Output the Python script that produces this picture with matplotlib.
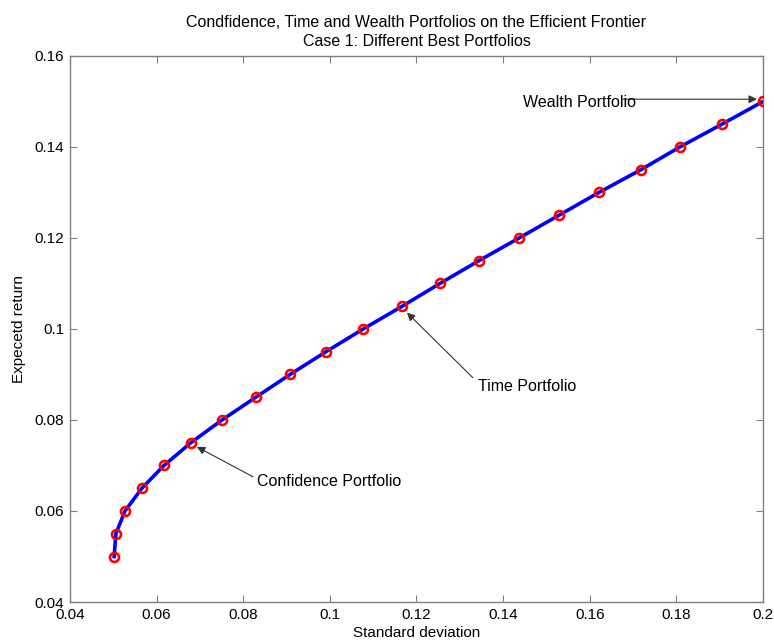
import matplotlib
matplotlib.use("Agg")
import matplotlib.pyplot as plt

plt.rcParams['font.family'] = ['Liberation Sans', 'DejaVu Sans']

# efficient frontier points
expected_return = [0.050, 0.055, 0.060, 0.065, 0.070, 0.075, 0.080, 0.085, 0.090, 0.095,
                   0.100, 0.105, 0.110, 0.115, 0.120, 0.125, 0.130, 0.135, 0.140, 0.145, 0.150]
std_dev = [0.0502, 0.0506, 0.0527, 0.0566, 0.0617, 0.0679, 0.0751, 0.0829, 0.0908, 0.0991,
           0.1077, 0.1167, 0.1254, 0.1344, 0.1437, 0.1529, 0.1621, 0.1718, 0.1808, 0.1905, 0.2000]

x_ticks = [0.04, 0.06, 0.08, 0.1, 0.12, 0.14, 0.16, 0.18, 0.2]
y_ticks = [0.04, 0.06, 0.08, 0.1, 0.12, 0.14, 0.16]

fig = plt.figure(figsize=(7.74, 6.42), dpi=100)
ax = fig.add_axes([0.0904, 0.0623, 0.8954, 0.8505])

ax.plot(std_dev, expected_return, color='#0000ff', lw=2.6, zorder=2)
ax.plot(std_dev, expected_return, 'o', ms=6.5, mfc='none', mec='#ff0000', mew=1.9, zorder=3)

ax.set_xlim(0.04, 0.2)
ax.set_ylim(0.04, 0.16)
ax.set_xticks(x_ticks)
ax.set_yticks(y_ticks)
ax.set_xticklabels(['0.04', '0.06', '0.08', '0.1', '0.12', '0.14', '0.16', '0.18', '0.2'])
ax.set_yticklabels(['0.04', '0.06', '0.08', '0.1', '0.12', '0.14', '0.16'])
ax.tick_params(direction='in', top=True, right=True, length=5, width=0.8,
               color='#808080', labelsize=11, pad=4)
for s in ax.spines.values():
    s.set_color('#808080')
    s.set_linewidth(1.0)

arrow = dict(arrowstyle='-|>', color='#333333', lw=0.8, mutation_scale=12,
             shrinkA=0, shrinkB=0)

# Wealth portfolio (top of the frontier)
ax.annotate('', xy=(0.1986, 0.1505), xytext=(0.1677, 0.1505), arrowprops=arrow)
ax.text(0.1446, 0.1497, 'Wealth Portfolio', fontsize=11.5, va='center', ha='left')

# Time portfolio
ax.annotate('', xy=(0.1178, 0.1036), xytext=(0.1330, 0.0893), arrowprops=arrow)
ax.text(0.1342, 0.0873, 'Time Portfolio', fontsize=11.5, va='center', ha='left')

# Confidence portfolio
ax.annotate('', xy=(0.0693, 0.0741), xytext=(0.0823, 0.0675), arrowprops=arrow)
ax.text(0.0832, 0.0664, 'Confidence Portfolio', fontsize=11.5, va='center', ha='left')

ax.set_title('Condfidence, Time and Wealth Portfolios on the Efficient Frontier\n'
             'Case 1: Different Best Portfolios', fontsize=11.5, linespacing=1.35, pad=7)
ax.set_xlabel('Standard deviation', fontsize=11, labelpad=3)
ax.set_ylabel('Expecetd return', fontsize=11, labelpad=6)

fig.savefig('out.png', dpi=100)
